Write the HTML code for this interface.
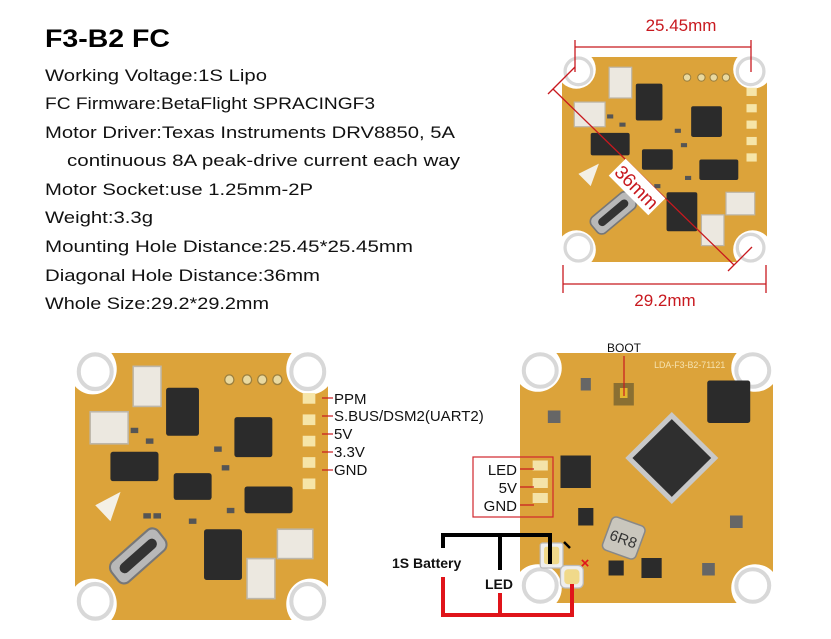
<!DOCTYPE html>
<html><head><meta charset="utf-8"><style>
html,body{margin:0;padding:0;background:#fff;}
svg{display:block}
text{font-family:"Liberation Sans",sans-serif;}
</style></head><body>
<svg width="831" height="639" viewBox="0 0 831 639" xmlns="http://www.w3.org/2000/svg">
<defs>
  <g id="base">
    <rect x="0" y="0" width="100" height="100" rx="2" fill="#dca33a"/>
    <g fill="#fff">
      <circle cx="7" cy="6" r="9.5"/><circle cx="93" cy="6" r="9.5"/>
      <circle cx="7" cy="94" r="9.5"/><circle cx="93" cy="94" r="9.5"/>
    </g>
    <g fill="#fff" stroke="#d8d8d8" stroke-width="1.6">
      <circle cx="8" cy="7" r="6.5"/><circle cx="92" cy="7" r="6.5"/>
      <circle cx="8" cy="93" r="6.5"/><circle cx="92" cy="93" r="6.5"/>
    </g>
  </g>
  <g id="front">
    <use href="#base"/>
    <g fill="#2b2b2b">
      <rect x="36" y="13" width="13" height="18" rx="1"/>
      <rect x="63" y="24" width="15" height="15" rx="1"/>
      <rect x="14" y="37" width="19" height="11" rx="1"/>
      <rect x="39" y="45" width="15" height="10" rx="1"/>
      <rect x="67" y="50" width="19" height="10" rx="1"/>
      <rect x="51" y="66" width="15" height="19" rx="1"/>
    </g>
    <g fill="#ece8e0" stroke="#bdb6a8" stroke-width="0.6">
      <rect x="23" y="5" width="11" height="15"/>
      <rect x="6" y="22" width="15" height="12"/>
      <rect x="80" y="66" width="14" height="11"/>
      <rect x="68" y="77" width="11" height="15"/>
    </g>
    <g transform="translate(25,76) rotate(-40)">
      <rect x="-12" y="-5" width="24" height="10" rx="3" fill="#b8b8b8" stroke="#777" stroke-width="0.8"/>
      <rect x="-9" y="-2" width="18" height="4" rx="2" fill="#333"/>
    </g>
    <polygon points="8,57 18,52 14,63" fill="#f4f0e6"/>
    <g fill="#f6e5a8">
      <rect x="90" y="15" width="5" height="4"/><rect x="90" y="23" width="5" height="4"/>
      <rect x="90" y="31" width="5" height="4"/><rect x="90" y="39" width="5" height="4"/>
      <rect x="90" y="47" width="5" height="4"/>
    </g>
    <g fill="#e9d9a0" stroke="#9b8040" stroke-width="0.5">
      <circle cx="61" cy="10" r="1.8"/><circle cx="68" cy="10" r="1.8"/>
      <circle cx="74" cy="10" r="1.8"/><circle cx="80" cy="10" r="1.8"/>
    </g>
    <g fill="#555">
      <rect x="55" y="35" width="3" height="2"/><rect x="58" y="42" width="3" height="2"/>
      <rect x="27" y="60" width="3" height="2"/><rect x="31" y="60" width="3" height="2"/>
      <rect x="60" y="58" width="3" height="2"/><rect x="45" y="62" width="3" height="2"/>
      <rect x="22" y="28" width="3" height="2"/><rect x="28" y="32" width="3" height="2"/>
    </g>
  </g>
  <g id="back">
    <use href="#base"/>
    <g transform="translate(60,42) rotate(45)">
      <rect x="-13" y="-13" width="26" height="26" fill="#c8c8c8"/>
      <rect x="-11" y="-11" width="22" height="22" fill="#2f2f2f"/>
    </g>
    <rect x="74" y="11" width="17" height="17" rx="1" fill="#2b2b2b"/>
    <rect x="16" y="41" width="12" height="13" fill="#2b2b2b"/>
    <g transform="translate(41,74) rotate(20)">
      <rect x="-7" y="-7" width="14" height="14" rx="2" fill="#c9c6bd" stroke="#888" stroke-width="0.6"/>
      <text x="0" y="2.5" font-size="6" text-anchor="middle" fill="#333">6R8</text>
    </g>
    <rect x="37" y="12" width="8" height="9" fill="#8a6f32"/>
    <rect x="39.5" y="14" width="3" height="4" fill="#e4b62d"/>
    <rect x="48" y="82" width="8" height="8" fill="#2b2b2b"/>
    <rect x="35" y="83" width="6" height="6" fill="#2b2b2b"/>
    <rect x="23" y="62" width="6" height="7" fill="#2b2b2b"/>
    <g fill="#f4e3a8">
      <rect x="5" y="43" width="6" height="4"/><rect x="5" y="50" width="6" height="4"/><rect x="5" y="56" width="6" height="4"/>
    </g>
    <g fill="#eee" stroke="#bbb" stroke-width="0.5">
      <rect x="8" y="76" width="9" height="10" rx="1"/>
      <rect x="16" y="85" width="9" height="9" rx="2"/>
    </g>
    <g fill="#f0d98a">
      <rect x="9.5" y="77.5" width="6" height="7" rx="1"/>
      <rect x="17.5" y="86.5" width="6" height="6" rx="1.5"/>
    </g>
    <text x="53" y="6" font-size="3.5" fill="#f6e3b0">LDA-F3-B2-71121</text>
    <g fill="#666">
      <rect x="11" y="23" width="5" height="5"/><rect x="83" y="65" width="5" height="5"/><rect x="72" y="84" width="5" height="5"/>
      <rect x="24" y="10" width="4" height="5"/>
    </g>
  </g>
</defs>

<text x="45" y="47" font-size="25" font-weight="bold" textLength="125" lengthAdjust="spacingAndGlyphs">F3-B2 FC</text>
<g font-size="17" fill="#111">
<text x="45" y="81" textLength="222" lengthAdjust="spacingAndGlyphs">Working Voltage:1S Lipo</text>
<text x="45" y="109" textLength="330" lengthAdjust="spacingAndGlyphs">FC Firmware:BetaFlight SPRACINGF3</text>
<text x="45" y="138" textLength="410" lengthAdjust="spacingAndGlyphs">Motor Driver:Texas Instruments DRV8850, 5A</text>
<text x="67" y="166" textLength="393" lengthAdjust="spacingAndGlyphs">continuous 8A peak-drive current each way</text>
<text x="45" y="195" textLength="268" lengthAdjust="spacingAndGlyphs">Motor Socket:use 1.25mm-2P</text>
<text x="45" y="223" textLength="108" lengthAdjust="spacingAndGlyphs">Weight:3.3g</text>
<text x="45" y="252" textLength="368" lengthAdjust="spacingAndGlyphs">Mounting Hole Distance:25.45*25.45mm</text>
<text x="45" y="281" textLength="275" lengthAdjust="spacingAndGlyphs">Diagonal Hole Distance:36mm</text>
<text x="45" y="309" textLength="224" lengthAdjust="spacingAndGlyphs">Whole Size:29.2*29.2mm</text>
</g>

<use href="#front" transform="translate(562,57) scale(2.05)"/>
<g stroke="#c8191f" stroke-width="1.3" fill="none">
  <line x1="575" y1="47" x2="751" y2="47"/>
  <line x1="575" y1="40" x2="575" y2="72"/>
  <line x1="751" y1="40" x2="751" y2="72"/>
  <line x1="563" y1="284" x2="766" y2="284"/>
  <line x1="563" y1="265" x2="563" y2="293"/>
  <line x1="766" y1="265" x2="766" y2="293"/>
  <line x1="553" y1="89" x2="734" y2="265"/>
  <line x1="548" y1="94" x2="575" y2="67"/>
  <line x1="728" y1="271" x2="752" y2="247"/>
</g>
<text x="681" y="31" font-size="17" fill="#c8191f" text-anchor="middle">25.45mm</text>
<text x="665" y="306" font-size="17" fill="#c8191f" text-anchor="middle">29.2mm</text>
<g transform="translate(637,187) rotate(45)">
  <rect x="-28" y="-12" width="56" height="24" fill="#fff"/>
  <text x="0" y="7" font-size="19" fill="#c8191f" text-anchor="middle">36mm</text>
</g>

<use href="#front" transform="translate(75,353) scale(2.53,2.67)"/>
<g stroke="#c8191f" stroke-width="1.2">
  <line x1="322" y1="398" x2="333" y2="398"/>
  <line x1="322" y1="416" x2="333" y2="416"/>
  <line x1="322" y1="434" x2="333" y2="434"/>
  <line x1="322" y1="452" x2="333" y2="452"/>
  <line x1="322" y1="470" x2="333" y2="470"/>
</g>
<g font-size="15" fill="#111">
<text x="334" y="404">PPM</text>
<text x="334" y="421">S.BUS/DSM2(UART2)</text>
<text x="334" y="439">5V</text>
<text x="334" y="457">3.3V</text>
<text x="334" y="475">GND</text>
</g>

<use href="#back" transform="translate(520,353) scale(2.53,2.5)"/>
<text x="624" y="352" font-size="12" fill="#111" text-anchor="middle">BOOT</text>
<line x1="624" y1="356" x2="624" y2="396" stroke="#c8191f" stroke-width="1.2"/>
<rect x="473" y="457" width="80" height="60" fill="none" stroke="#d0262c" stroke-width="1.2"/>
<g stroke="#c8191f" stroke-width="1.2">
  <line x1="520" y1="469" x2="534" y2="469"/>
  <line x1="520" y1="487" x2="534" y2="487"/>
  <line x1="520" y1="505" x2="534" y2="505"/>
</g>
<g font-size="15" fill="#111" text-anchor="end">
<text x="517" y="475">LED</text>
<text x="517" y="493">5V</text>
<text x="517" y="511">GND</text>
</g>
<polyline points="443,548 443,535 550,535 550,564" fill="none" stroke="#000" stroke-width="4"/>
<line x1="500" y1="535" x2="500" y2="570" stroke="#000" stroke-width="4"/>
<polyline points="443,577 443,615 572,615 572,584" fill="none" stroke="#e0141a" stroke-width="4"/>
<line x1="500" y1="615" x2="500" y2="593" stroke="#e0141a" stroke-width="4"/>
<line x1="564" y1="542" x2="570" y2="548" stroke="#000" stroke-width="2.5"/>
<text x="585" y="568" font-size="15" font-weight="bold" fill="#e0141a" text-anchor="middle">×</text>
<text x="392" y="568" font-size="14" font-weight="bold" fill="#111">1S Battery</text>
<text x="485" y="589" font-size="14" font-weight="bold" fill="#111">LED</text>
</svg>
</body></html>
